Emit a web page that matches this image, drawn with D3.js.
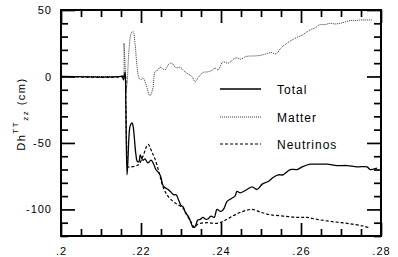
<!DOCTYPE html>
<html><head><meta charset="utf-8">
<script src="https://cdn.jsdelivr.net/npm/d3@7"></script>
<style>
html,body{margin:0;padding:0;background:#fff;overflow:hidden;}
svg{display:block;}
svg text{font-family:"Liberation Sans",Arial,sans-serif;fill:#000;}
</style></head>
<body><svg id="c" width="398" height="257"></svg>
<script>
// time (s) and Dh^TT_zz (cm) values
const totalT = [0.2,0.215,0.2153,0.2156,0.2159,0.21605,0.2162,0.2165,0.2167,0.217,0.2173,0.21775,0.218,0.2183,0.2187,0.2191,0.2195,0.2198,0.2201,0.2205,0.221,0.2217,0.2225,0.2231,0.2237,0.2243,0.2249,0.2255,0.2262,0.2268,0.2275,0.2282,0.2288,0.2294,0.23,0.2305,0.2312,0.2318,0.2325,0.233,0.2335,0.2342,0.2348,0.2355,0.2362,0.2368,0.2375,0.2383,0.239,0.2398,0.2403,0.2408,0.2415,0.2422,0.2425,0.2435,0.244,0.2448,0.2465,0.2478,0.249,0.2503,0.2518,0.253,0.2543,0.2555,0.2573,0.259,0.2603,0.2623,0.264,0.2665,0.269,0.2715,0.274,0.2765,0.2773,0.279];
const totalV = [0,0,0.5,-2.5,1,3.5,-20,-74,-65,-45,-37,-35,-37,-45,-58,-64,-64,-59,-61,-63,-62,-65,-63,-65.5,-70,-72,-75,-82,-84,-85,-87,-89,-89,-93,-97,-98,-103,-105,-110,-113.5,-113,-108,-107.5,-106,-107.5,-107,-105,-106,-100,-101.5,-101,-99,-94,-92.5,-92,-90,-86.5,-87.5,-85,-83,-85,-81,-79,-76,-74,-74,-70,-70,-68,-66,-66,-66,-67,-67,-68,-68,-70,-69];

const matterT = [0.2,0.215,0.2155,0.2157,0.21575,0.216,0.21625,0.2165,0.217,0.2175,0.218,0.2185,0.219,0.2195,0.22,0.2205,0.22125,0.22225,0.223,0.2235,0.22425,0.22475,0.226,0.227,0.22775,0.2285,0.229,0.22975,0.231,0.23225,0.23275,0.2335,0.23425,0.2355,0.23675,0.238,0.2385,0.23925,0.2405,0.24175,0.24375,0.245,0.24625,0.24875,0.25,0.25125,0.2525,0.25375,0.255,0.25625,0.2575,0.25875,0.26025,0.26125,0.26225,0.2635,0.26475,0.266,0.26725,0.2685,0.26975,0.271,0.27225,0.2735,0.27475,0.27575,0.278];
const matterV = [0,0,0,2,25,10,-11,-6,20,32,34,25,8,-1,-2.5,-1,-6,-14.5,-8.5,3.5,5,7,5,9.5,10,7,6.5,7,3.5,1,0,-4,-1,3,3.5,5,6.5,5,11,10,14,13,15,15.5,16,17,18,17,21.5,24.5,27,29,31,33,35,36.5,39,39,40,39.5,40,41,42,42,42.5,42.5,42.5,44,43,45,44,44];

const nuT = [0.2,0.2155,0.216,0.2162,0.2165,0.21675,0.2175,0.219,0.2195,0.2205,0.22175,0.22275,0.2235,0.2245,0.2255,0.2265,0.228,0.229,0.2305,0.2318,0.2328,0.2333,0.2343,0.2365,0.239,0.2405,0.2423,0.245,0.2478,0.2498,0.2523,0.2555,0.259,0.2615,0.264,0.2673,0.2715,0.2755,0.2773];
const nuV = [0,0,1,-20,-60,-68,-68,-67,-66,-60,-51,-57,-62,-72,-83,-89,-94,-96,-99,-106,-111,-113.5,-111,-110,-110.5,-109,-106,-102,-100,-102,-104,-105,-106,-106,-107.5,-109,-110.5,-112.5,-114];

const xMajor = [0.2,0.22,0.24,0.26,0.28];
const xTickLabels = [".2",".22",".24",".26",".28"];
const yMajor = [-100,-50,0,50];
const yTickLabels = ["-100","-50","0","50"];
const legendLabels = ["Total","Matter","Neutrinos"];

const svg = d3.select("#c");
const L=61,R=381,T=10,B=236;
const x = d3.scaleLinear().domain([0.2,0.28]).range([L,R]);
const y = d3.scaleLinear().domain([-120,50]).range([B,T]);

const xMinor = d3.range(0,17).map(i=>+(0.2+i*0.005).toFixed(4)).filter(v=>!xMajor.some(m=>Math.abs(m-v)<1e-9));
const yMinor = d3.range(-120,51,10).filter(v=>!yMajor.includes(v));

function styleAxis(g){
  g.select(".domain").remove();
  g.selectAll(".tick line").style("stroke","#000").style("stroke-width","1.7px");
  g.selectAll(".tick text").style("font-size","11px").style("letter-spacing","1px").style("fill","#000");
}

// bottom
svg.append("g").attr("transform",`translate(0,${B})`).call(d3.axisBottom(x).tickValues(xMinor).tickSize(-7).tickFormat(()=>"")).call(styleAxis);
svg.append("g").attr("transform",`translate(0,${B})`).call(d3.axisBottom(x).tickValues(xMajor).tickSize(-13).tickPadding(11).tickFormat((d,i)=>xTickLabels[i])).call(styleAxis);
// top
svg.append("g").attr("transform",`translate(0,${T})`).call(d3.axisTop(x).tickValues(xMinor).tickSize(-7).tickFormat(()=>"")).call(styleAxis);
svg.append("g").attr("transform",`translate(0,${T})`).call(d3.axisTop(x).tickValues(xMajor).tickSize(-13).tickFormat(()=>"")).call(styleAxis);
// left
svg.append("g").attr("transform",`translate(${L},0)`).call(d3.axisLeft(y).tickValues(yMinor).tickSize(-7).tickFormat(()=>"")).call(styleAxis);
svg.append("g").attr("transform",`translate(${L},0)`).call(d3.axisLeft(y).tickValues(yMajor).tickSize(-14).tickPadding(9).tickFormat((d,i)=>yTickLabels[i])).call(styleAxis);
// right
svg.append("g").attr("transform",`translate(${R},0)`).call(d3.axisRight(y).tickValues(yMinor).tickSize(-7).tickFormat(()=>"")).call(styleAxis);
svg.append("g").attr("transform",`translate(${R},0)`).call(d3.axisRight(y).tickValues(yMajor).tickSize(-14).tickFormat(()=>"")).call(styleAxis);

// frame
const frame = [[L,T,R,T],[R,T,R,B],[L,B,R,B],[L,T,L,B]];
svg.append("g").selectAll("line").data(frame).join("line")
  .attr("x1",d=>d[0]).attr("y1",d=>d[1]).attr("x2",d=>d[2]).attr("y2",d=>d[3])
  .style("stroke","#000").style("stroke-width","2px").style("stroke-linecap","square");

const line = d3.line().x(d=>x(d[0])).y(d=>y(d[1])).curve(d3.curveCatmullRom.alpha(0.5));
const zip=(a,b)=>a.map((t,i)=>[t,b[i]]);

svg.append("path").datum(zip(matterT,matterV)).attr("d",line).attr("fill","none").attr("stroke","#333").attr("stroke-width",1).attr("stroke-dasharray","1,1");
svg.append("path").datum(zip(nuT,nuV)).attr("d",line).attr("fill","none").attr("stroke","#000").attr("stroke-width",1.2).attr("stroke-dasharray","3,2");
svg.append("path").datum(zip(totalT,totalV)).attr("d",line).attr("fill","none").attr("stroke","#000").attr("stroke-width",1.3);

// legend
const legY=[89,117,144];
const dashes=[null,"1,1","3,2"];
const widths=[1.3,1,1.2];
const cols=["#000","#333","#000"];
legendLabels.forEach((lab,i)=>{
  svg.append("line").attr("x1",220).attr("x2",261).attr("y1",legY[i]).attr("y2",legY[i]).attr("stroke",cols[i]).attr("stroke-width",widths[i]).attr("stroke-dasharray",dashes[i]);
  svg.append("text").attr("x",277).attr("y",legY[i]+4.5).attr("font-size",12).attr("letter-spacing","1px").text(lab);
});

// y label
const yl = svg.append("text").attr("transform","translate(25,114) rotate(-90)").attr("text-anchor","middle").attr("font-size",11).attr("letter-spacing","1.5px");
yl.append("tspan").text("Dh");
yl.append("tspan").attr("font-size",8).attr("dy",-7).text("TT");
yl.append("tspan").attr("font-size",8).attr("dy",10).text("zz");
yl.append("tspan").attr("dy",-3).text(" (cm)");
</script></body></html>
